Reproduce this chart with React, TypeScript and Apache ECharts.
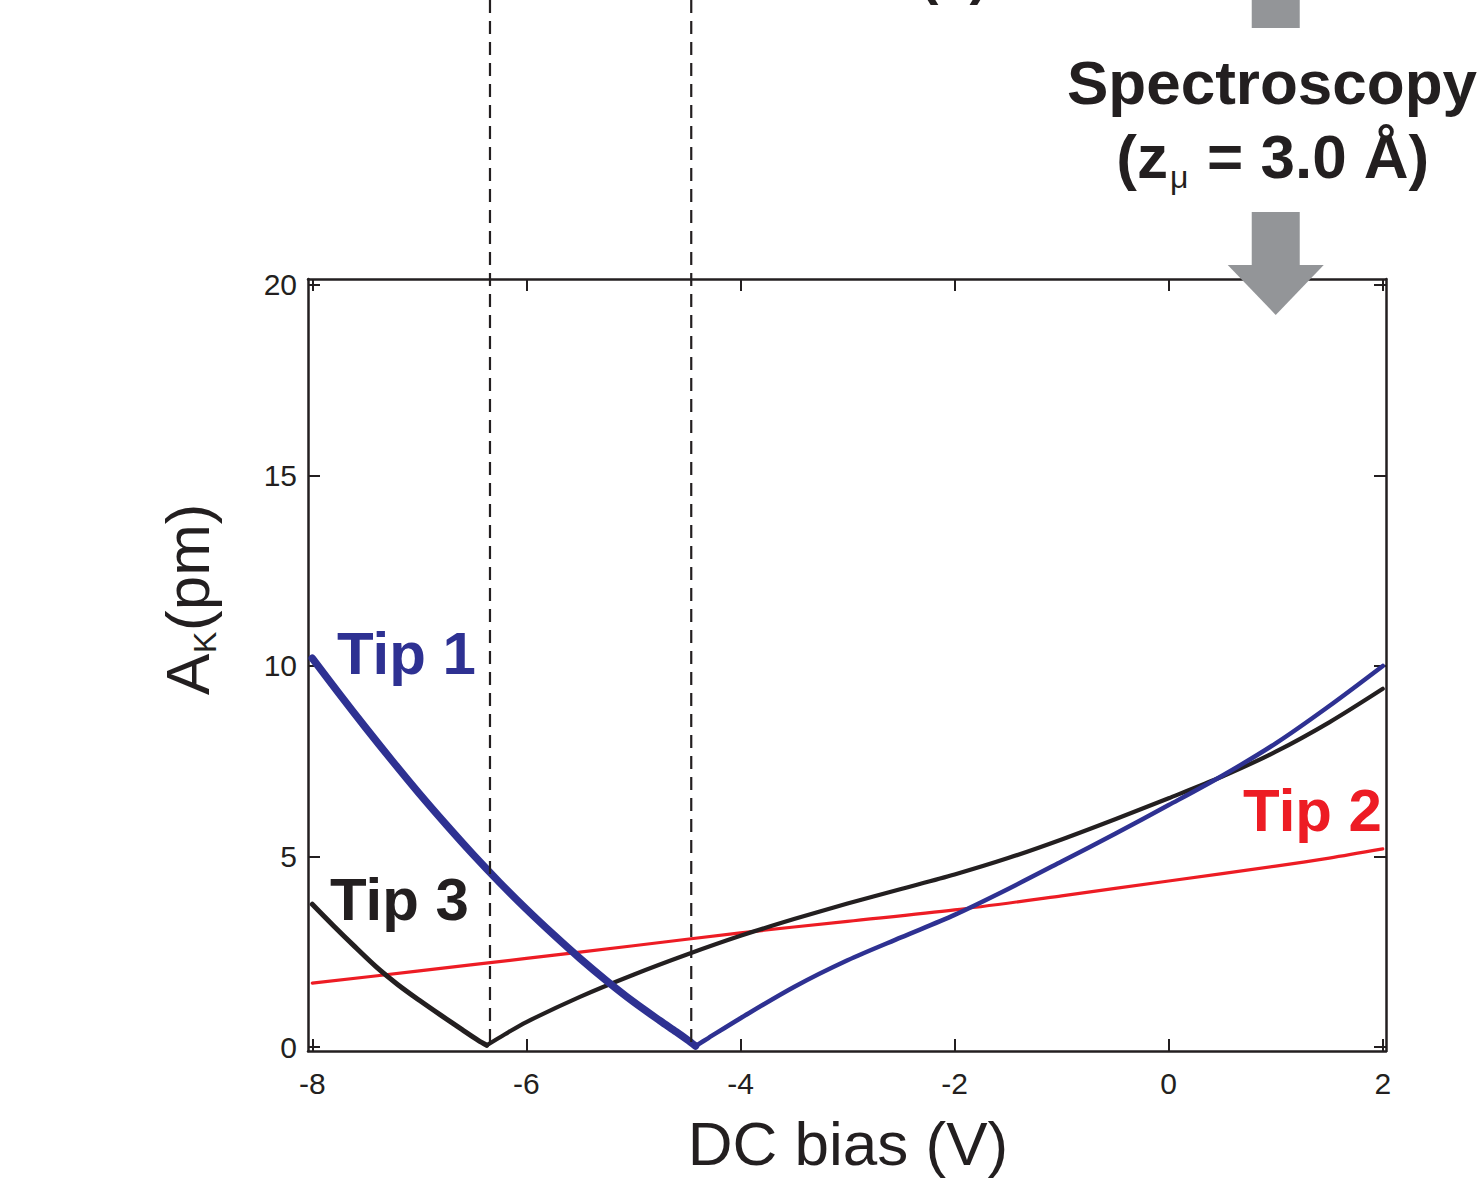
import React, { useEffect, useRef } from "react";
import * as echarts from "echarts";

// ---- data ----
const xTicks = [-8, -6, -4, -2, 0, 2];
const yTicks = [0, 5, 10, 15, 20];

const tip1LeftV = [-8, -7.75, -7.5, -7.25, -7, -6.75, -6.5, -6.25, -6, -5.75, -5.5, -5.25, -5, -4.75, -4.6, -4.5, -4.42];
const tip1LeftA = [10.2, 9.275, 8.375, 7.5, 6.65, 5.84, 5.06, 4.32, 3.62, 2.96, 2.33, 1.74, 1.19, 0.69, 0.4, 0.2, 0.03];
const tip1RightV = [-4.42, -4.3, -4.0, -3.5, -3.0, -2.5, -2.0, -1.5, -1.0, -0.5, 0, 0.5, 1.0, 1.5, 2.0];
const tip1RightA = [0.03, 0.24, 0.76, 1.58, 2.28, 2.88, 3.47, 4.15, 4.87, 5.6, 6.35, 7.12, 7.97, 8.95, 10.0];

const tip3LeftV = [-8, -7.8, -7.6, -7.4, -7.2, -7.0, -6.8, -6.6, -6.45, -6.37];
const tip3LeftA = [3.75, 3.18, 2.63, 2.1, 1.64, 1.23, 0.84, 0.46, 0.18, 0.05];
const tip3RightV = [-6.37, -6.2, -6.0, -5.5, -5.0, -4.5, -4.0, -3.5, -3.0, -2.5, -2.0, -1.5, -1.0, -0.5, 0, 0.5, 1.0, 1.5, 2.0];
const tip3RightA = [0.05, 0.34, 0.66, 1.32, 1.9, 2.43, 2.92, 3.36, 3.77, 4.15, 4.53, 4.96, 5.45, 5.98, 6.53, 7.1, 7.75, 8.52, 9.4];

const tip2V = [-8, -7, -6, -5, -4, -3, -2, -1, 0, 1, 1.5, 2];
const tip2A = [1.68, 2.0, 2.33, 2.66, 3.0, 3.3, 3.6, 3.97, 4.36, 4.75, 4.96, 5.2];

const dashedV = [-6.34, -4.46];
const arrowV = 1.0;

const INK = "#231f20";
const BLUE = "#2e3192";
const RED = "#ed1c24";
const GRAY = "#939598";
const FONT = '"Liberation Sans", Arial, Helvetica, sans-serif';

const pairs = (v: number[], a: number[]) => v.map((x, i) => [x, a[i]]);

export default function App() {
  const ref = useRef<HTMLDivElement>(null);
  useEffect(() => {
    document.body.style.margin = "0";
    const chart = echarts.init(ref.current!, undefined, { renderer: "svg" });
    const axisLine = { show: true, onZero: false, lineStyle: { color: INK, width: 2.5 } };
    const tick = (vals: number[]) => ({
      show: true,
      inside: true,
      length: 12,
      customValues: vals,
      lineStyle: { color: INK, width: 2 },
    });
    const line = (name: string, v: number[], a: number[], color: string, width: number, z: number) => ({
      name,
      type: "line",
      data: pairs(v, a),
      showSymbol: false,
      smooth: 0.3,
      lineStyle: { color, width, cap: "round", join: "round" },
      z,
    });
    chart.setOption({
      animation: false,
      backgroundColor: "#ffffff",
      grid: { left: 308, top: 279, width: 1078, height: 772, show: false },
      xAxis: [
        {
          type: "value",
          min: -8.04,
          max: 2.03,
          position: "bottom",
          axisLine,
          axisTick: tick(xTicks),
          axisLabel: { customValues: xTicks, fontSize: 30, color: INK, fontFamily: FONT, margin: 17 },
          splitLine: { show: false },
        },
        {
          type: "value",
          min: -8.04,
          max: 2.03,
          position: "top",
          axisLine,
          axisTick: tick(xTicks),
          axisLabel: { show: false },
          splitLine: { show: false },
        },
      ],
      yAxis: [
        {
          type: "value",
          min: -0.1,
          max: 20.15,
          position: "left",
          axisLine,
          axisTick: tick(yTicks),
          axisLabel: { customValues: yTicks, fontSize: 30, color: INK, fontFamily: FONT, margin: 11 },
          splitLine: { show: false },
        },
        {
          type: "value",
          min: -0.1,
          max: 20.15,
          position: "right",
          axisLine,
          axisTick: tick(yTicks),
          axisLabel: { show: false },
          splitLine: { show: false },
        },
      ],
      series: [
        line("Tip 2", tip2V, tip2A, RED, 3.2, 2),
        line("Tip 3", tip3LeftV, tip3LeftA, INK, 5, 3),
        line("Tip 3 ", tip3RightV, tip3RightA, INK, 4.2, 3),
        line("Tip 1", tip1LeftV, tip1LeftA, BLUE, 7.5, 4),
        line("Tip 1 ", tip1RightV, tip1RightA, BLUE, 4.5, 4),
      ],
    });

    const px = (v: number) => chart.convertToPixel({ xAxisIndex: 0 }, v) as number;
    const py = (v: number) => chart.convertToPixel({ yAxisIndex: 0 }, v) as number;
    const yZero = py(0);
    const ax = px(arrowV);

    const text = (t: string, x: number, y: number, font: string, fill: string, align: string) => ({
      type: "text",
      x,
      y,
      z: 50,
      style: { text: t, font, fill, align, verticalAlign: "middle" },
    });

    const graphics: any[] = [
      ...dashedV.map((v) => ({
        type: "line",
        z: 40,
        shape: { x1: px(v), y1: 0, x2: px(v), y2: yZero },
        style: { stroke: INK, lineWidth: 2.2, lineDash: [13, 8] },
      })),
      // gray arrows
      { type: "rect", z: 45, shape: { x: ax - 24, y: 0, width: 48, height: 28 }, style: { fill: GRAY } },
      { type: "rect", z: 45, shape: { x: ax - 24, y: 212, width: 48, height: 54 }, style: { fill: GRAY } },
      {
        type: "polygon",
        z: 45,
        shape: { points: [[ax - 48, 265], [ax + 48, 265], [ax, 315]] },
        style: { fill: GRAY },
      },
      text("Spectroscopy", 1272, 82, `bold 62px ${FONT}`, INK, "center"),
      text("(z", 1168, 156, `bold 62px ${FONT}`, INK, "right"),
      text("μ", 1170, 177, `32px ${FONT}`, INK, "left"),
      text("= 3.0 Å)", 1207, 156, `bold 62px ${FONT}`, INK, "left"),
      text("(a)", 954, -27, `bold 56px ${FONT}`, INK, "center"),
      // curve labels
      text("Tip 1", 337, 653, `bold 60px ${FONT}`, BLUE, "left"),
      text("Tip 3", 330, 899, `bold 60px ${FONT}`, INK, "left"),
      text("Tip 2", 1382, 810, `bold 60px ${FONT}`, RED, "right"),
      // x axis title
      text("DC bias (V)", 848, 1143, `62px ${FONT}`, INK, "center"),
      // y axis title (rotated)
      {
        type: "group",
        x: 208,
        y: 695,
        rotation: Math.PI / 2,
        z: 50,
        children: [
          { type: "text", x: 0, y: -21, style: { text: "A", font: `62px ${FONT}`, fill: INK, align: "left", verticalAlign: "middle" } },
          { type: "text", x: 42, y: -3, style: { text: "K", font: `32px ${FONT}`, fill: INK, align: "left", verticalAlign: "middle" } },
          { type: "text", x: 64, y: -21, style: { text: "(pm)", font: `62px ${FONT}`, fill: INK, align: "left", verticalAlign: "middle" } },
        ],
      },
    ];
    chart.setOption({ graphic: graphics });

    return () => chart.dispose();
  }, []);
  return <div ref={ref} style={{ width: 1484, height: 1179 }} />;
}
